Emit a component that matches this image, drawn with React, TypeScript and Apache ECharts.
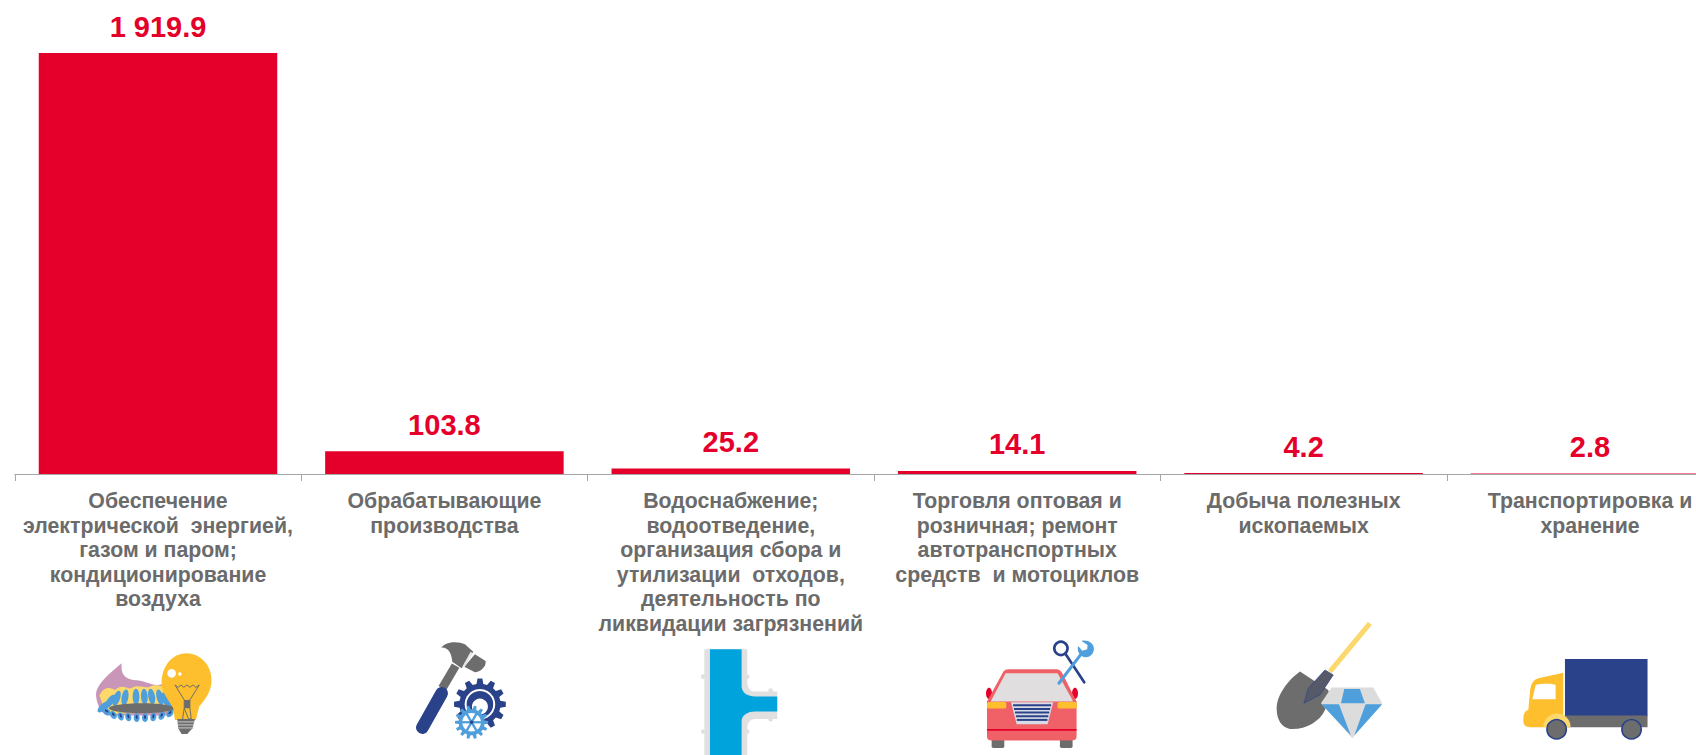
import React, { useEffect, useRef } from "react";
import * as echarts from "echarts";

const categories = [
  "Обеспечение\nэлектрической  энергией,\nгазом и паром;\nкондиционирование\nвоздуха",
  "Обрабатывающие\nпроизводства",
  "Водоснабжение;\nводоотведение,\nорганизация сбора и\nутилизации  отходов,\nдеятельность по\nликвидации загрязнений",
  "Торговля оптовая и\nрозничная; ремонт\nавтотранспортных\nсредств  и мотоциклов",
  "Добыча полезных\nископаемых",
  "Транспортировка и\nхранение",
];
const values = [1919.9, 103.8, 25.2, 14.1, 4.2, 2.8];

const RED = "#e4002b";
const GRAY = "#6d6d6d";
const NAVY = "#2a4289";
const SKY = "#4f9fdd";
const AMBER = "#fdbf2d";
const PALE = "#fbd86b";

let shapeId = 0;
const P = (d: string, fill: string, extra: any = {}) => {
  const name = "icon" + shapeId++;
  echarts.graphic.registerShape(name, echarts.graphic.extendPath(d, {}));
  return { type: name, silent: true, style: { fill, ...extra } };
};
const C = (cx: number, cy: number, r: number, fill: string, extra: any = {}) => ({
  type: "circle",
  silent: true,
  shape: { cx, cy, r },
  style: { fill, ...extra },
});
const E = (x: number, y: number, rx: number, ry: number, rot: number, fill: string) => ({
  type: "ellipse",
  silent: true,
  x,
  y,
  rotation: (rot * Math.PI) / 180,
  shape: { cx: 0, cy: 0, rx, ry },
  style: { fill },
});
const L = (x1: number, y1: number, x2: number, y2: number, stroke: string, lineWidth: number, cap = "round") => ({
  type: "line",
  silent: true,
  shape: { x1, y1, x2, y2 },
  style: { stroke, lineWidth, lineCap: cap },
});
const R = (x: number, y: number, width: number, height: number, fill: string, r = 0) => ({
  type: "rect",
  silent: true,
  shape: { x, y, width, height, r },
  style: { fill },
});
const PG = (points: number[][], fill: string) => ({
  type: "polygon",
  silent: true,
  shape: { points },
  style: { fill },
});
const gearPath = (cx: number, cy: number, ro: number, ri: number, teeth: number) => {
  const pts: string[] = [];
  const step = (Math.PI * 2) / teeth;
  for (let i = 0; i < teeth; i++) {
    const a = i * step;
    const at = (r: number, f: number) => {
      const t = a + f * step;
      return (cx + r * Math.cos(t)).toFixed(1) + " " + (cy + r * Math.sin(t)).toFixed(1);
    };
    pts.push((i ? "L" : "M") + at(ri, -0.32), "L" + at(ro, -0.18), "L" + at(ro, 0.18), "L" + at(ri, 0.32));
  }
  return pts.join(" ") + " Z";
};
const icon = (x: number, y: number, children: any[]) => ({
  type: "group",
  x,
  y,
  scaleX: 1 / 3,
  scaleY: 1 / 3,
  children,
});

const burnerIcon = () =>
  icon(90, 645, [
    P("M95 55 C60 85 20 115 18 150 C20 180 35 205 50 212 L240 212 L225 115 C190 130 170 105 130 105 C105 100 92 90 95 55 Z", "#c996b8"),
    P("M28 152 C40 125 60 125 75 135 C95 115 110 132 125 130 C140 115 170 132 180 125 C200 115 225 125 240 140 L250 200 L50 208 Z", "#fcd96a"),
    ...[[42, 185, -50], [60, 170, -35], [80, 160, -20], [105, 157, -10], [138, 155, 0], [163, 155, 3], [185, 155, 10], [210, 157, 15], [228, 165, 25], [245, 180, 40]].flatMap(
      ([x, y, r]) => [E(x, y, 10, 24, r, SKY)],
    ),
    ...[[50, 200, 50], [70, 210, 35], [92, 214, 20], [115, 216, 10], [140, 218, 0], [165, 218, 0], [190, 216, -10], [215, 212, -25], [240, 205, -40]].flatMap(
      ([x, y, r]) => [E(x, y, 9, 13, r, SKY), E(x, y - 2, 3, 6, r, NAVY)],
    ),
    E(155, 190, 98, 15, 0, GRAY),
    P("M290 25 C250 25 215 60 215 115 C215 145 240 170 250 190 L255 225 L318 225 L328 185 C345 165 365 140 365 105 C365 60 330 25 290 25 Z", AMBER),
    C(245, 85, 13, "#fff"),
    C(270, 87, 5, "#fff"),
    {
      type: "polyline",
      silent: true,
      shape: { points: [[255, 120], [265, 127], [273, 120], [282, 127], [291, 120], [300, 127], [309, 120], [318, 127], [328, 120], [300, 165], [300, 190], [304, 222], [296, 222], [283, 190], [283, 165], [255, 120]] },
      style: { stroke: GRAY, lineWidth: 3, fill: "none" },
    },
    R(283, 165, 17, 25, GRAY),
    L(283, 190, 278, 222, GRAY, 3),
    P("M262 222 L315 222 L308 250 L292 267 L275 267 L265 250 Z", GRAY),
    L(264, 231, 313, 231, "#ddd", 2.5),
    L(265, 240, 312, 240, "#ddd", 2.5),
    L(266, 249, 310, 249, "#ddd", 2.5),
  ]);

const toolsIcon = () =>
  icon(405, 635, [
    P("M108 38 C125 18 160 18 180 28 L205 50 L170 100 L142 80 C140 50 125 35 108 38 Z", GRAY),
    P("M210 58 L242 78 C245 95 225 112 210 112 L178 95 Z", GRAY),
    L(200, 52, 175, 97, "#e4e4e4", 7, "butt"),
    L(152, 92, 112, 160, GRAY, 26, "butt"),
    L(110, 175, 52, 278, NAVY, 38),
    P(gearPath(225, 208, 78, 62, 12), NAVY),
    C(225, 208, 46, "#fff"),
    C(225, 208, 40, NAVY),
    C(225, 215, 24, "#fff"),
    P(gearPath(200, 262, 50, 39, 14), SKY),
    C(200, 262, 28, "#fff"),
    ...[0, 60, 120].map((a) => {
      const t = (a * Math.PI) / 180;
      return L(200 - 30 * Math.cos(t), 262 - 30 * Math.sin(t), 200 + 30 * Math.cos(t), 262 + 30 * Math.sin(t), SKY, 7, "butt");
    }),
    C(200, 262, 5, NAVY),
  ]);

const pipeIcon = () =>
  icon(690, 640, [
    ...[[40, 110], [40, 275], [172, 110], [172, 275], [242, 152], [242, 238]].map(([x, y]) => C(x, y, 7, "#e0e0e0")),
    P("M43 28 H172 V125 C172 142 180 155 195 155 H262 V237 H195 C180 237 172 250 172 265 V345 H43 Z", "#e0e0e0"),
    P("M60 28 H155 V140 C155 160 175 170 195 170 H262 V215 H195 C175 215 155 225 155 245 V345 H60 Z", "#00a3dc"),
  ]);

const carIcon = () =>
  icon(975, 630, [
    E(42, 190, 9, 17, 0, RED),
    E(300, 190, 9, 17, 0, RED),
    R(50, 325, 38, 29, GRAY, 5),
    R(255, 325, 38, 29, GRAY, 5),
    P("M85 125 Q90 118 100 118 H245 Q255 118 262 130 L305 215 V320 Q305 332 290 332 H50 Q36 332 36 320 V215 Z", "#ef6166"),
    PG([[92, 130], [248, 130], [295, 215], [47, 215]], "#e0dede"),
    R(36, 216, 58, 20, AMBER, 5),
    R(248, 216, 58, 20, AMBER, 5),
    PG([[108, 217], [235, 217], [218, 283], [125, 283]], "#d8dbe6"),
    ...[226, 237, 248, 259, 270].map((y) => {
      const d = ((y - 217) / 66) * 17;
      return L(112 + d, y, 231 - d, y, NAVY, 6, "butt");
    }),
    L(36, 300, 305, 300, RED, 5, "butt"),
    C(258, 55, 20, "none", { stroke: NAVY, lineWidth: 8 }),
    L(272, 72, 328, 157, NAVY, 8),
    L(252, 160, 322, 68, SKY, 9),
    P("M320 33 C335 28 358 38 357 58 C356 78 335 88 320 78 C312 72 306 60 310 48 L322 62 L337 58 L338 45 Z", SKY),
  ]);

const shovelIcon = () =>
  icon(1265, 615, [
    L(315, 25, 195, 170, PALE, 15, "butt"),
    P("M105 170 L190 225 C195 240 190 260 180 285 C165 320 120 345 75 342 C50 338 35 315 35 280 C35 240 70 195 105 170 Z", GRAY),
    P("M180 165 L205 180 L165 240 L117 265 L130 220 Z", "#565a68", { stroke: NAVY, lineWidth: 2 }),
    PG([[200, 218], [325, 218], [352, 265], [262, 370], [168, 265]], "#dcdcdc"),
    PG([[238, 222], [285, 222], [300, 265], [228, 265]], SKY),
    PG([[170, 268], [222, 268], [258, 362]], SKY),
    PG([[302, 268], [352, 268], [268, 362]], SKY),
  ]);

const truckIcon = () =>
  icon(1515, 650, [
    R(150, 27, 248, 172, NAVY),
    R(150, 197, 248, 35, GRAY),
    P("M145 68 L70 85 C55 90 48 100 45 125 L40 180 C28 182 24 195 25 215 C26 228 35 232 45 232 H150 V197 H145 Z", AMBER),
    P("M62 105 C75 100 115 100 122 105 V148 H52 Z", "#fff"),
    P("M85 232 A41 41 0 0 1 167 232 Z", "#fcd96a"),
    C(125, 238, 29, GRAY, { stroke: NAVY, lineWidth: 5 }),
    C(350, 238, 29, GRAY, { stroke: NAVY, lineWidth: 5 }),
  ]);

const formatValue = (v: number) => v.toFixed(1).replace(/\B(?=(\d{3})+(?!\d))/, " ");

export default function App() {
  const ref = useRef<HTMLDivElement>(null);
  useEffect(() => {
    document.body.style.margin = "0";
    const chart = echarts.init(ref.current!, null, { renderer: "svg" });
    chart.setOption({
      animation: false,
      backgroundColor: "#fff",
      grid: { left: 14.8, top: 53, width: 1718.4, height: 421, containLabel: false, outerBoundsMode: "none" },
      xAxis: {
        type: "category",
        data: categories,
        boundaryGap: true,
        axisLine: { lineStyle: { color: "#a6a6a6", width: 1 } },
        axisTick: { show: true, length: 7, alignWithLabel: false, lineStyle: { color: "#a6a6a6" } },
        axisLabel: {
          interval: 0,
          margin: 15,
          color: "#6b6b6b",
          fontFamily: "Liberation Sans",
          fontWeight: "bold",
          fontSize: 21.3,
          lineHeight: 24.5,
          align: "center",
          hideOverlap: false,
        },
      },
      yAxis: { type: "value", min: 0, max: 1919.9, show: false },
      series: [
        {
          type: "bar",
          data: values,
          barWidth: 238.5,
          itemStyle: { color: RED },
          label: {
            show: true,
            position: "top",
            distance: 12,
            color: RED,
            fontFamily: "Liberation Sans",
            fontWeight: "bold",
            fontSize: 29,
            formatter: (p: any) => formatValue(p.value),
          },
        },
      ],
      graphic: { elements: [burnerIcon(), toolsIcon(), pipeIcon(), carIcon(), shovelIcon(), truckIcon()] },
    });
    return () => chart.dispose();
  }, []);
  return (
    <div style={{ width: 1696, height: 755, overflow: "hidden" }}>
      <div ref={ref} style={{ width: 1760, height: 755 }} />
    </div>
  );
}
